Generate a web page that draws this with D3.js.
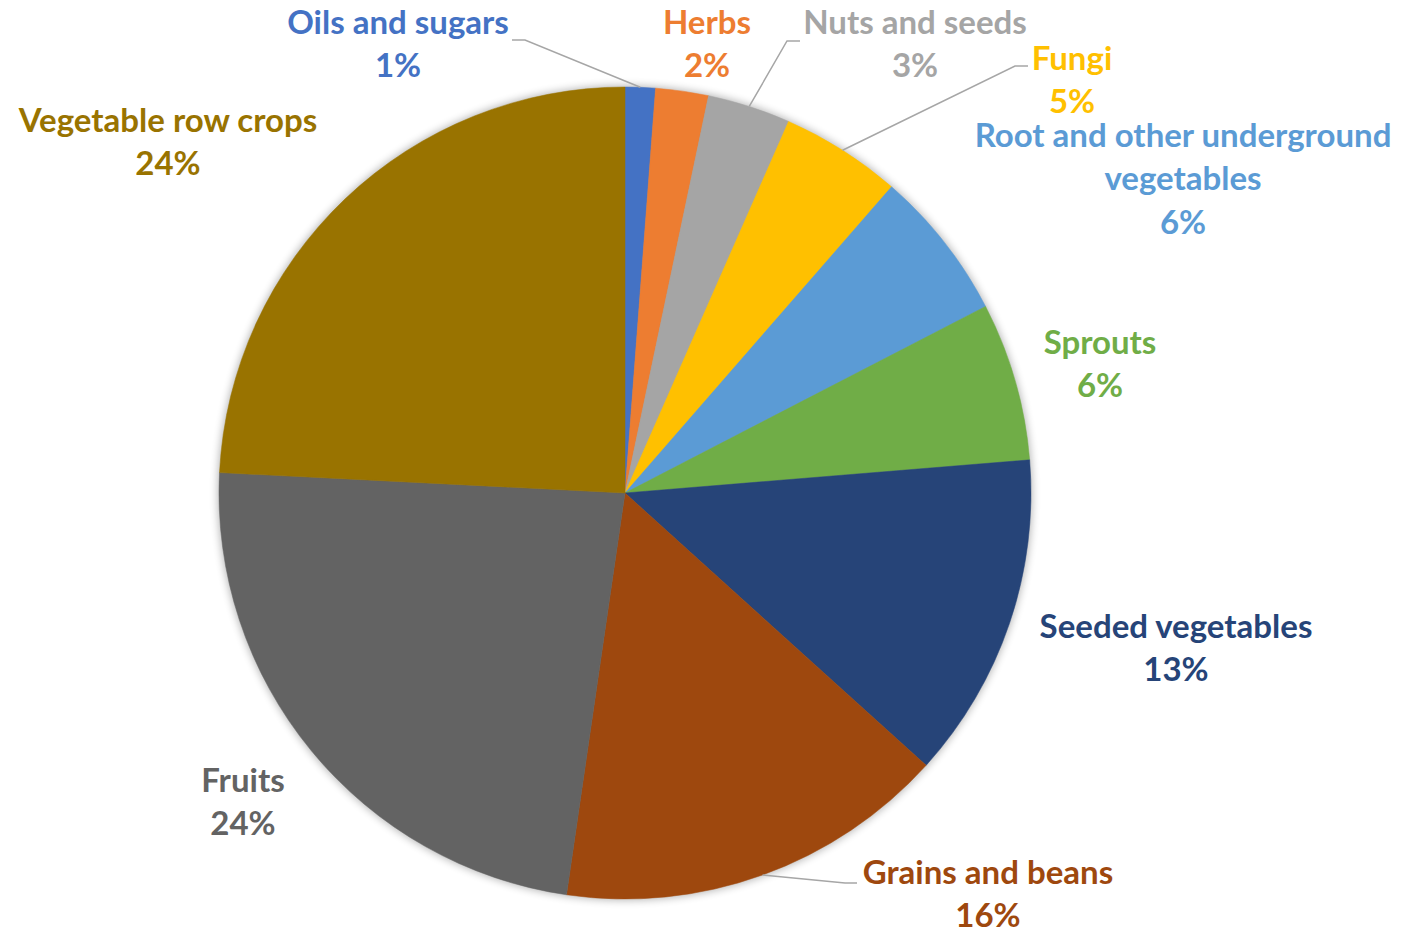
<!DOCTYPE html>
<html>
<head>
<meta charset="utf-8">
<script src="https://cdn.jsdelivr.net/npm/d3@7"></script>
<style>
  body { margin: 0; background: #fff; }
  text { font-family: Lato, "Open Sans", sans-serif; font-weight: 700; }
</style>
</head>
<body>
<div id="chart"></div>
<script>
// slices, clockwise from 12 o'clock
var categories = ["Oils and sugars", "Herbs", "Nuts and seeds", "Fungi",
  "Root and other underground vegetables", "Sprouts", "Seeded vegetables",
  "Grains and beans", "Fruits", "Vegetable row crops"];
var values = [1.2, 2.1, 3.3, 4.8, 6.0, 6.3, 13.0, 15.6, 23.5, 24.2];
var colorList = ["#4472C4", "#ED7D31", "#A5A5A5", "#FFC000", "#5B9BD5",
  "#70AD47", "#264478", "#9E480E", "#636363", "#997300"];

// label layout: center x, first line y, lines of name text
var labelLayout = [
  {x: 398, y: 22, lines: ["Oils and sugars"], leader: [[525, 40], [512, 40]]},
  {x: 707, y: 22, lines: ["Herbs"]},
  {x: 915, y: 22, lines: ["Nuts and seeds"], leader: [[787, 41], [800, 41]]},
  {x: 1072, y: 58, lines: ["Fungi"], leader: [[1015, 66], [1028, 66]]},
  {x: 1183, y: 135, lines: ["Root and other underground", "vegetables"]},
  {x: 1100, y: 342, lines: ["Sprouts"]},
  {x: 1176, y: 626, lines: ["Seeded vegetables"]},
  {x: 988, y: 872, lines: ["Grains and beans"], leader: [[845, 883], [857, 883]]},
  {x: 243, y: 780, lines: ["Fruits"]},
  {x: 168, y: 120, lines: ["Vegetable row crops"]}
];

var width = 1401, height = 932;
var cx = 625, cy = 493, radius = 406;
var lineGap = 43.5;

var color = d3.scaleOrdinal().domain(categories).range(colorList);

var svg = d3.select("#chart").append("svg")
  .attr("width", width)
  .attr("height", height);

var defs = svg.append("defs");
var blur = defs.append("filter").attr("id", "glow")
  .attr("x", "-10%").attr("y", "-10%").attr("width", "120%").attr("height", "120%");
blur.append("feGaussianBlur").attr("stdDeviation", 4);

var g = svg.append("g").attr("transform", "translate(" + cx + "," + cy + ")");

// soft shadow round the pie
g.append("circle")
  .attr("r", radius + 1)
  .attr("fill", "#000")
  .attr("opacity", 0.3)
  .attr("filter", "url(#glow)");

var data = categories.map(function (c, i) { return {name: c, value: values[i], i: i}; });

var pie = d3.pie().sort(null).value(function (d) { return d.value; });
var arc = d3.arc().innerRadius(0).outerRadius(radius);
var edge = d3.arc().innerRadius(radius).outerRadius(radius);

var arcs = pie(data);

g.selectAll("path.slice")
  .data(arcs)
  .enter().append("path")
  .attr("class", "slice")
  .attr("d", arc)
  .attr("fill", function (d) { return color(d.data.name); })
  .attr("stroke", function (d) { return color(d.data.name); })
  .attr("stroke-width", 0.5);

// leader lines
arcs.forEach(function (d, i) {
  var lay = labelLayout[i];
  if (!lay.leader) return;
  var c = edge.centroid(d);
  var pts = [[c[0] + cx, c[1] + cy]].concat(lay.leader);
  svg.append("path")
    .attr("d", d3.line()(pts))
    .attr("fill", "none")
    .attr("stroke", "#A6A6A6")
    .attr("stroke-width", 1.5);
});

// labels
arcs.forEach(function (d, i) {
  var lay = labelLayout[i];
  var lines = lay.lines.concat([Math.round(d.data.value) + "%"]);
  var t = svg.append("text")
    .attr("text-anchor", "middle")
    .attr("fill", color(d.data.name))
    .style("font-size", "33px");
  lines.forEach(function (s, k) {
    t.append("tspan")
      .attr("x", lay.x)
      .attr("y", lay.y + k * lineGap)
      .attr("dy", "0.35em")
      .text(s);
  });
});
</script>
</body>
</html>
